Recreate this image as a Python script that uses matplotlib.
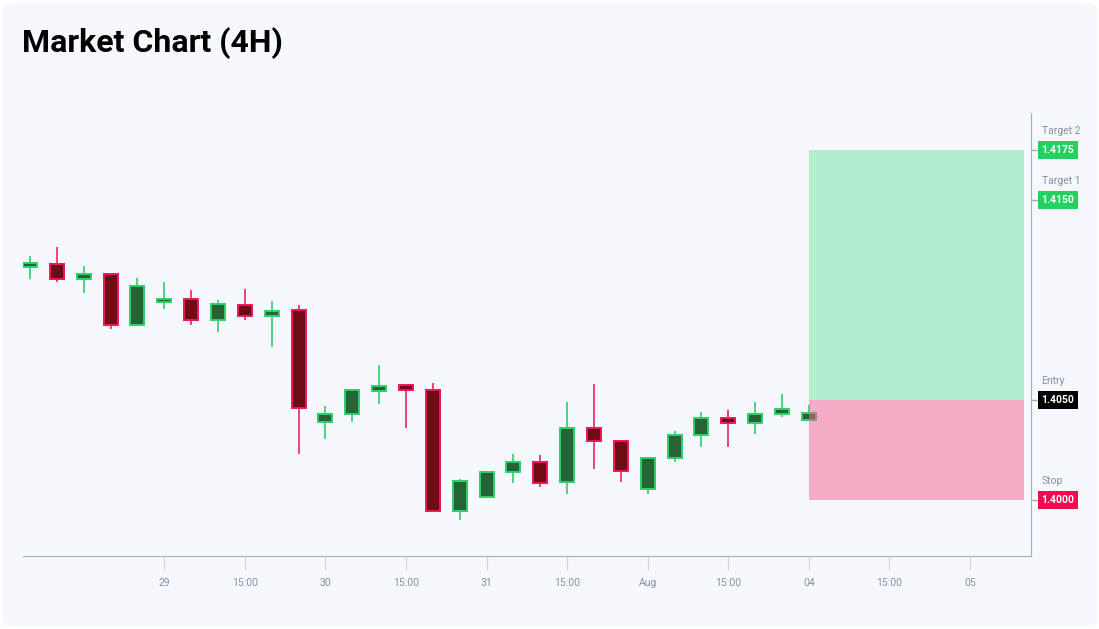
import matplotlib
matplotlib.use("Agg")
import matplotlib.pyplot as plt
import matplotlib.transforms as mtransforms
from matplotlib.patches import FancyBboxPatch, Rectangle
import numpy as np

plt.rcParams['font.family'] = ['Roboto', 'DejaVu Sans']

# 4H candles
opens = [1.41164, 1.41182, 1.41104, 1.41129, 1.40875, 1.40992, 1.41005, 1.40899, 1.40977, 1.40919,
         1.40948, 1.40389, 1.40429, 1.40545, 1.40574, 1.40549, 1.39944, 1.40017, 1.40140, 1.40190,
         1.40092, 1.40359, 1.40295, 1.40057, 1.40209, 1.40327, 1.40412, 1.40387, 1.40429, 1.40399]
highs = [1.41220, 1.41264, 1.41170, 1.41130, 1.41109, 1.41092, 1.41050, 1.41000, 1.41055, 1.40997,
         1.40974, 1.40470, 1.40554, 1.40674, 1.40575, 1.40584, 1.40105, 1.40144, 1.40230, 1.40225,
         1.40492, 1.40580, 1.40300, 1.40209, 1.40347, 1.40440, 1.40450, 1.40492, 1.40530, 1.40475]
lows = [1.41104, 1.41092, 1.41034, 1.40854, 1.40870, 1.40955, 1.40875, 1.40839, 1.40902, 1.40767,
        1.40228, 1.40304, 1.40392, 1.40482, 1.40362, 1.39944, 1.39900, 1.40017, 1.40087, 1.40067,
        1.40032, 1.40154, 1.40090, 1.40029, 1.40192, 1.40267, 1.40267, 1.40332, 1.40414, 1.40399]
closes = [1.41184, 1.41104, 1.41129, 1.40875, 1.41070, 1.41007, 1.40899, 1.40979, 1.40919, 1.40945,
          1.40459, 1.40430, 1.40549, 1.40572, 1.40549, 1.39944, 1.40094, 1.40142, 1.40190, 1.40087,
          1.40360, 1.40294, 1.40144, 1.40209, 1.40327, 1.40412, 1.40387, 1.40429, 1.40454, 1.40434]

tick_pos = [5, 8, 11, 14, 17, 20, 23, 26, 29, 32, 35]
tick_labels = ["29", "15:00", "30", "15:00", "31", "15:00", "Aug", "15:00", "04", "15:00", "05"]

entry = 1.4050
stop = 1.4000
target1 = 1.4150
target2 = 1.4175
zone_start = 29
zone_end = 37

level_names = ["Target 2", "Target 1", "Entry", "Stop"]
level_prices = [target2, target1, entry, stop]
level_colors = ["#22d160", "#22d160", "#000000", "#f5094f"]

W, H = 1099, 629
fig = plt.figure(figsize=(W / 100, H / 100), dpi=100)
fig.patch.set_facecolor("white")

# rounded card background
card = FancyBboxPatch((2 / W, 2 / H), 1 - 4 / W, 1 - 4 / H,
                      boxstyle="round,pad=0,rounding_size=0.012",
                      transform=fig.transFigure, facecolor="#f5f8fd", edgecolor="none", zorder=-10)
fig.patches.append(card)

fig.text(22 / W, 1 - 52 / H, "Market Chart (4H)", fontsize=23, fontweight="bold",
         color="#000000", va="baseline", ha="left")

left, right, bottom, top = 23, 1031, 556, 113
ax = fig.add_axes([left / W, 1 - bottom / H, (right - left) / W, (bottom - top) / H])
ax.set_facecolor("none")
ax.set_zorder(5)

x = np.arange(len(opens))
o = np.array(opens)
c = np.array(closes)
up = c >= o

# wicks
ax.vlines(x[up], np.array(lows)[up], np.array(highs)[up], color="#4fd282", linewidth=1.4, zorder=2)
ax.vlines(x[~up], np.array(lows)[~up], np.array(highs)[~up], color="#f2407a", linewidth=1.4, zorder=2)

# bodies
ax.bar(x[up], (c - o)[up], bottom=o[up], width=0.52, color="#266436",
       edgecolor="#2fcf6a", linewidth=1.4, zorder=3)
ax.bar(x[~up], (o - c)[~up], bottom=c[~up], width=0.52, color="#6e0c13",
       edgecolor="#f0145c", linewidth=1.4, zorder=3)

# reward / risk zones
ax.add_patch(Rectangle((zone_start, entry), zone_end - zone_start, target2 - entry,
                       facecolor="#71e4a1", alpha=0.5, edgecolor="none", zorder=4))
ax.add_patch(Rectangle((zone_start, stop), zone_end - zone_start, entry - stop,
                       facecolor="#f56295", alpha=0.5, edgecolor="none", zorder=4))

ax.set_xlim(-0.26, 37.27)
ax.set_ylim(1.39720, 1.41935)

for s in ["top", "left"]:
    ax.spines[s].set_visible(False)
ax.spines["bottom"].set_color("#a9adb8")
ax.spines["right"].set_color("#a9adb8")

ax.set_xticks(tick_pos)
ax.set_xticklabels(tick_labels)
ax.tick_params(axis="x", length=10, color="#d0d3da", labelsize=7.5, labelcolor="#8b8fa6", pad=6)
ax.set_yticks([])

# right side level labels
trans = mtransforms.blended_transform_factory(ax.transAxes, ax.transData)
for name, price, col in zip(level_names, level_prices, level_colors):
    ax.plot([1.0, 1.006], [price, price], transform=trans, color="#a9adb8", linewidth=1, clip_on=False)
    ax.text(1.0105, price, f"{price:.4f}", transform=trans, ha="left", va="center",
            fontsize=7.5, fontweight="bold", color="white",
            bbox=dict(boxstyle="square,pad=0.35", facecolor=col, edgecolor="none"))
    ax.annotate(name, xy=(1.0105, price), xycoords=trans, xytext=(0, 10),
                textcoords="offset points", ha="left", va="bottom",
                fontsize=7.5, color="#8b8fa6")

fig.savefig("out.png", dpi=100, facecolor="white")
